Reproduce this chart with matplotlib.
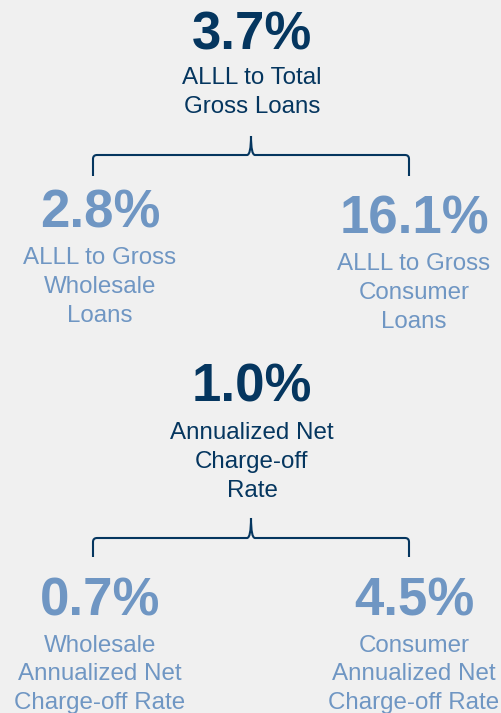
import matplotlib.pyplot as plt
from matplotlib.path import Path
from matplotlib.patches import PathPatch

# values and labels
top_values = ["3.7%", "1.0%"]
top_labels = [["ALLL to Total", "Gross Loans"],
              ["Annualized Net", "Charge-off", "Rate"]]
left_values = ["2.8%", "0.7%"]
left_labels = [["ALLL to Gross", "Wholesale", "Loans"],
               ["Wholesale", "Annualized Net", "Charge-off Rate"]]
right_values = ["16.1%", "4.5%"]
right_labels = [["ALLL to Gross", "Consumer", "Loans"],
                ["Consumer", "Annualized Net", "Charge-off Rate"]]

dark = "#05365f"
light = "#6f96c3"
bg = "#f0f0f0"
font = "Liberation Sans"

fig = plt.figure(figsize=(5.01, 7.13), dpi=100, facecolor=bg)
ax = fig.add_axes([0, 0, 1, 1])
ax.set_xlim(0, 501)
ax.set_ylim(713, 0)
ax.axis("off")


def block(x, y_num, y_lines, value, lines, color):
    ax.text(x, y_num, value, ha="center", va="baseline", fontsize=38,
            fontweight="bold", color=color, family=font)
    for yl, t in zip(y_lines, lines):
        ax.text(x, yl, t, ha="center", va="baseline", fontsize=17.4,
                color=color, family=font)


def brace(y_tip, y_mid, y_end, x0=93, x1=409, xm=251):
    verts = [(x0, y_end), (x0, y_mid + 4), (x0, y_mid), (x0 + 4, y_mid),
             (xm - 4, y_mid), (xm, y_mid), (xm, y_tip),
             (xm, y_mid), (xm + 4, y_mid),
             (x1 - 4, y_mid), (x1, y_mid), (x1, y_mid + 4), (x1, y_end)]
    codes = [Path.MOVETO, Path.LINETO, Path.CURVE3, Path.CURVE3,
             Path.LINETO, Path.CURVE3, Path.CURVE3,
             Path.CURVE3, Path.CURVE3,
             Path.LINETO, Path.CURVE3, Path.CURVE3, Path.LINETO]
    ax.add_patch(PathPatch(Path(verts, codes), fill=False, edgecolor=dark,
                           lw=1.5, capstyle="butt"))


# first group
block(252, 50, [84, 113], top_values[0], top_labels[0], dark)
brace(136, 155, 176)
block(100, 228, [264, 293, 322], left_values[0], left_labels[0], light)
block(414, 234, [270, 299, 328], right_values[0], right_labels[0], light)

# second group
block(252, 401, [439, 468, 497], top_values[1], top_labels[1], dark)
brace(518, 538, 557)
block(100, 616, [652, 680, 709], left_values[1], left_labels[1], light)
block(414, 616, [652, 680, 709], right_values[1], right_labels[1], light)

fig.savefig("out.png", dpi=100, facecolor=bg)
